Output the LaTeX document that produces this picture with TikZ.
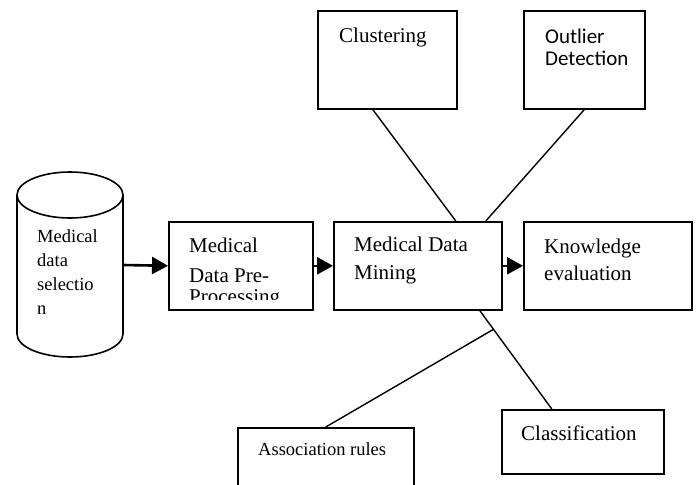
\documentclass[tikz,border=0pt]{standalone}
\usepackage{fontspec}
\setmainfont{Liberation Serif}
\newfontfamily\calfont{Carlito}
\usetikzlibrary{arrows.meta}
\tikzset{
  box/.style={draw, line width=1.6pt, rectangle, inner sep=0pt, anchor=north west},
  txt/.style={inner sep=0pt, anchor=base west, font=\fontsize{21}{25}\selectfont},
  smalltxt/.style={inner sep=0pt, anchor=base west, font=\fontsize{18.5}{22}\selectfont},
  caltxt/.style={inner sep=0pt, anchor=base west, font=\calfont\fontsize{21}{25}\selectfont},
  flow/.style={line width=2.6pt, -{Triangle[length=16pt, width=17pt]}},
  link/.style={line width=1.4pt}
}
\begin{document}
\begin{tikzpicture}[x=1pt, y=-1pt]
\useasboundingbox[fill=white] (0,0) rectangle (697,485);
\clip (0,0) rectangle (697,485);
% cylinder
\draw[line width=1.6pt] (70,195) ellipse [x radius=53pt, y radius=23pt];
\draw[line width=1.6pt] (17,195) -- (17,334);
\draw[line width=1.6pt] (123,195) -- (123,334);
\begin{scope}
  \clip (0,334) rectangle (140,400);
  \draw[line width=1.6pt] (70,334) ellipse [x radius=53pt, y radius=23pt];
\end{scope}
\coordinate (cylR) at (123,265);
\node[smalltxt] (c1) at (37,242) {Medical};
\node[smalltxt] (c2) at (37,266) {data};
\node[smalltxt] (c3) at (37,290) {selectio};
\node[smalltxt] (c4) at (37,314) {n};
% boxes
\node[box, minimum width=139pt, minimum height=98pt] (clu) at (317,10) {};
\node[box, minimum width=121pt, minimum height=98pt] (out) at (523,10) {};
\node[box, minimum width=144pt, minimum height=88pt] (pre) at (168,221) {};
\node[box, minimum width=168pt, minimum height=88pt] (min) at (333,221) {};
\node[box, minimum width=168pt, minimum height=88pt] (kno) at (523,221) {};
\node[box, minimum width=162pt, minimum height=64pt] (cls) at (501,409) {};
\node[box, minimum width=176pt, minimum height=70pt] (asc) at (237,427) {};
% texts
\node[txt] (t1) at (339,42) {Clustering};
\node[caltxt] (t2) at (545,43) {Outlier};
\node[caltxt] (t3) at (545,65) {Detection};
\begin{scope}
  \clip (168,221) rectangle (312,299);
  \node[txt] (t4) at (189,252) {Medical};
  \node[txt] (t5) at (189,282) {Data Pre-};
  \node[txt] (t6) at (189,303) {Processing};
\end{scope}
\node[txt] (t7) at (354,251) {Medical Data};
\node[txt] (t8) at (354,279) {Mining};
\node[txt] (t9) at (544,253) {Knowledge};
\node[txt] (t10) at (544,280) {evaluation};
\node[txt] (t11) at (521,440) {Classification};
\node[smalltxt] (t12) at (258,455) {Association rules};
% arrows
\draw[flow] (cylR) -- (pre.west);
\draw[flow] (pre.east) -- (min.west);
\draw[flow] (min.east) -- (kno.west);
% links
\draw[link] ([xshift=-14.5pt]clu.south) -- ([xshift=38pt]min.north);
\draw[link] (out.south) -- ([xshift=68pt]min.north);
\draw[link] ([xshift=62pt]min.south) -- coordinate[pos=0.19] (j) ([xshift=-31pt]cls.north);
\draw[link] (j) -- (asc.north);
\end{tikzpicture}
\end{document}
